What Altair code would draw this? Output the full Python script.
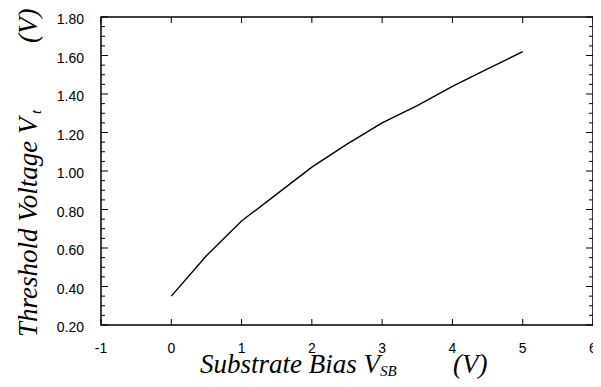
import altair as alt
import pandas as pd

# Data
vsb = [0, 0.5, 1, 1.5, 2, 2.5, 3, 3.5, 4, 4.5, 5]
vt = [0.35, 0.56, 0.74, 0.88, 1.02, 1.14, 1.25, 1.34, 1.44, 1.53, 1.62]
x_ticks = [-1, 0, 1, 2, 3, 4, 5, 6]
x_tick_labels = ["-1", "0", "1", "2", "3", "4", "5", "6"]
y_major = [0.2, 0.4, 0.6, 0.8, 1.0, 1.2, 1.4, 1.6, 1.8]
y_tick_labels = ["0.20", "0.40", "0.60", "0.80", "1.00", "1.20", "1.40", "1.60", "1.80"]
y_minor = [0.25, 0.3, 0.35, 0.45, 0.5, 0.55, 0.65, 0.7, 0.75, 0.85, 0.9, 0.95,
           1.05, 1.1, 1.15, 1.25, 1.3, 1.35, 1.45, 1.5, 1.55, 1.65, 1.7, 1.75]

W, H = 492, 308
SERIF = "'Liberation Serif', 'Times New Roman', 'DejaVu Serif', serif"
SANS = "'Liberation Sans', Arial, Helvetica, sans-serif"

df = pd.DataFrame({"vsb": vsb, "vt": vt})
df_xt = pd.DataFrame({"v": x_ticks, "lab": x_tick_labels})
df_ymaj = pd.DataFrame({"v": y_major, "lab": y_tick_labels})
df_ymin = pd.DataFrame({"v": y_minor})
one = pd.DataFrame({"a": [0]})

xs = alt.Scale(domain=[-1, 6], nice=False, zero=False)
ys = alt.Scale(domain=[0.2, 1.8], nice=False, zero=False)

line = alt.Chart(df).mark_line(color="black", strokeWidth=1.4).encode(
    x=alt.X("vsb:Q", scale=xs, axis=None),
    y=alt.Y("vt:Q", scale=ys, axis=None),
)

def xrule(y1, y2):
    return alt.Chart(df_xt).mark_rule(color="black", strokeWidth=1).encode(
        x=alt.X("v:Q", scale=xs, axis=None), y=alt.value(y1), y2=alt.value(y2))

def yrule(d, x1, x2):
    return alt.Chart(d).mark_rule(color="black", strokeWidth=1).encode(
        y=alt.Y("v:Q", scale=ys, axis=None), x=alt.value(x1), x2=alt.value(x2))

ticks = [
    xrule(H, H - 6), xrule(0, 6),
    yrule(df_ymaj, 0, 7), yrule(df_ymin, 0, 4),
    yrule(df_ymaj, W, W - 7), yrule(df_ymin, W, W - 4),
]

xlabels = alt.Chart(df_xt).mark_text(
    font=SANS, fontSize=14, color="black", align="center", baseline="alphabetic"
).encode(x=alt.X("v:Q", scale=xs, axis=None), y=alt.value(H + 28), text="lab:N")

ylabels = alt.Chart(df_ymaj).mark_text(
    font=SANS, fontSize=14, color="black", align="right", baseline="middle", dy=3
).encode(y=alt.Y("v:Q", scale=ys, axis=None), x=alt.value(-17), text="lab:N")

def txt(s, x, y, size, angle=0):
    return alt.Chart(one).mark_text(
        text=s, font=SERIF, fontStyle="italic", fontSize=size, color="black",
        align="left", baseline="alphabetic", angle=angle,
    ).encode(x=alt.value(x), y=alt.value(y))

titles = [
    txt("Substrate Bias V", 99, 356, 27),
    txt("SB", 279, 359, 15),
    txt("(V)", 352, 356, 27),
    txt("Threshold Voltage V", -64, 320, 27, angle=270),
    txt("t", -60, 97, 15, angle=270),
    txt("(V)", -64, 26, 27, angle=270),
]

chart = alt.layer(line, *ticks, xlabels, ylabels, *titles).properties(
    width=W, height=H,
    padding={"left": 93, "top": 9, "right": 0, "bottom": 54},
    autosize="none",
).configure_view(stroke="black", strokeWidth=1.5)

chart.save("out.html", embed_options={"renderer": "svg", "actions": False})
